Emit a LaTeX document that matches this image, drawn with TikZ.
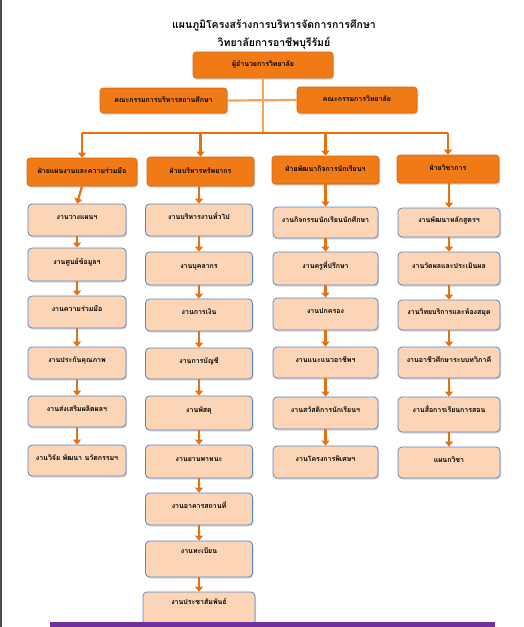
\documentclass[tikz,border=0pt]{standalone}
\usepackage{fontspec}
\newfontfamily\thai[Script=Thai]{Loma}
\usetikzlibrary{arrows.meta,shadows}
\definecolor{orfill}{HTML}{F07B16}
\definecolor{ordraw}{HTML}{D9650C}
\definecolor{peach}{HTML}{FBD5B5}
\definecolor{bluedraw}{HTML}{5B87C5}
\definecolor{arrc}{HTML}{E8700F}
\definecolor{lightarr}{HTML}{F6A35C}
\definecolor{purp}{HTML}{7030A0}
\begin{document}
\begin{tikzpicture}[x=1pt,y=-1pt,
  titletext/.style={font=\thai\bfseries\fontsize{10.5}{12}\selectfont, inner sep=0pt},
  headbox/.style={draw=ordraw, line width=0.6pt, fill=orfill, rounded corners=3pt,
    drop shadow={shadow xshift=1pt,shadow yshift=-1.5pt,opacity=0.35},
    font=\thai\bfseries\fontsize{7}{8}\selectfont, inner sep=0pt, text height=5pt, text depth=1.5pt},
  subbox/.style={draw=bluedraw, line width=0.8pt, fill=peach, rounded corners=4pt,
    drop shadow={shadow xshift=1pt,shadow yshift=-1.5pt,opacity=0.3},
    font=\thai\bfseries\fontsize{7}{8}\selectfont, inner sep=0pt, text height=5pt, text depth=5.5pt},
  arr/.style={draw=arrc, line width=2.2pt, -{Triangle[length=5pt,width=8pt]}},
  busline/.style={draw=arrc, line width=2.2pt},
  lightline/.style={draw=lightarr, line width=2.2pt}
]
\useasboundingbox (0,0) rectangle (523,627);
\fill[white] (0,0) rectangle (523,627);
\fill[black!70] (0,0) rectangle (1.5,627);

\node[titletext] (t1) at (274,25) {แผนภูมิโครงสร้างการบริหารจัดการการศึกษา};
\node[titletext] (t2) at (274,43) {วิทยาลัยการอาชีพบุรีรัมย์};

\coordinate (busc) at (263,133);
\coordinate (busl) at (82,133);
\coordinate (busr) at (448,133);

\node[headbox, minimum width=127, minimum height=25] (cl) at (163.5,100.5) {คณะกรรมการบริหารสถานศึกษา};
\node[headbox, minimum width=120, minimum height=26] (cr) at (357,100) {คณะกรรมการวิทยาลัย};
\draw[lightline] (cl.east) -- (cr.west);
\node[headbox, minimum width=140, minimum height=26] (dir) at (263,65) {ผู้อำนวยการวิทยาลัย};
\draw[lightline] (dir.south) -- (busc);
\draw[busline] (busl) -- (busr);

\node[headbox, minimum width=110, minimum height=28] (h1) at (82,172) {ฝ่ายแผนงานและความร่วมมือ};
\node[headbox, minimum width=107, minimum height=29] (h2) at (200.5,171.5) {ฝ่ายบริหารทรัพยากร};
\node[headbox, minimum width=107, minimum height=28] (h3) at (325.5,170) {ฝ่ายพัฒนากิจการนักเรียนฯ};
\node[headbox, minimum width=102, minimum height=28] (h4) at (448,169) {ฝ่ายวิชาการ};
\foreach \h in {h1,h2,h3,h4} \draw[arr] (\h.north |- busc) -- (\h.north);

% column 1
\begin{scope}[every node/.style={subbox, minimum width=98}]
\node[minimum height=32] (a1) at (77,220) {งานวางแผนฯ};
\node[minimum height=33] (a2) at (77,264.5) {งานศูนย์ข้อมูลฯ};
\node[minimum height=32] (a3) at (77,312) {งานความร่วมมือ};
\node[minimum height=32] (a4) at (77,363) {งานประกันคุณภาพ};
\node[minimum height=31] (a5) at (77,411.5) {งานส่งเสริมผลิตผลฯ};
\node[minimum height=31] (a6) at (77,460.5) {งานวิจัย พัฒนา นวัตกรรมฯ};
\end{scope}
% column 2
\begin{scope}[every node/.style={subbox, minimum width=107}]
\node[minimum height=32] (b1) at (199,220) {งานบริหารงานทั่วไป};
\node[minimum height=33] (b2) at (199,268.5) {งานบุคลากร};
\node[minimum height=32] (b3) at (199,315) {งานการเงิน};
\node[minimum height=31] (b4) at (199,363.5) {งานการบัญชี};
\node[minimum height=34] (b5) at (199,413) {งานพัสดุ};
\node[minimum height=33] (b6) at (199,461.5) {งานยานพาหนะ};
\node[minimum height=32] (b7) at (199,509) {งานอาคารสถานที่};
\node[minimum height=36, text depth=16pt] (b8) at (199,559) {งานทะเบียน};
\node[minimum height=40, minimum width=112, text depth=20pt] (b9) at (199,612) {งานประชาสัมพันธ์};
\end{scope}
% column 3
\begin{scope}[every node/.style={subbox, minimum width=105}]
\node[minimum height=31] (c1) at (325.5,222.5) {งานกิจกรรมนักเรียนนักศึกษา};
\node[minimum height=33] (c2) at (325.5,268.5) {งานครูที่ปรึกษา};
\node[minimum height=32] (c3) at (325.5,314) {งานปกครอง};
\node[minimum height=31] (c4) at (325.5,362.5) {งานแนะแนวอาชีพฯ};
\node[minimum height=32] (c5) at (325.5,413) {งานสวัสดิการนักเรียนฯ};
\node[minimum height=32] (c6) at (325.5,462) {งานโครงการพิเศษฯ};
\end{scope}
% column 4
\begin{scope}[every node/.style={subbox, minimum width=102}]
\node[minimum height=29] (d1) at (449,222.5) {งานพัฒนาหลักสูตรฯ};
\node[minimum height=33] (d2) at (449,268.5) {งานวัดผลและประเมินผล};
\node[minimum height=30] (d3) at (449,315) {งานวิทยบริการและห้องสมุด};
\node[minimum height=31] (d4) at (449,362.5) {งานอาชีวศึกษาระบบทวิภาคี};
\node[minimum height=35, text depth=9pt] (d5) at (449,414.5) {งานสื่อการเรียนการสอน};
\node[minimum height=31] (d6) at (449,462.5) {แผนกวิชา};
\end{scope}

\draw[arr] (h1.south) -- (a1.north);
\draw[arr] (h2.south -| b1.north) -- (b1.north);
\draw[arr] (h3.south) -- (c1.north);
\draw[arr] (h4.south -| d1.north) -- (d1.north);
\foreach \p/\q in {a1/a2,a2/a3,a3/a4,a4/a5,a5/a6,
                   b1/b2,b2/b3,b3/b4,b4/b5,b5/b6,b6/b7,b7/b8,b8/b9,
                   c1/c2,c2/c3,c3/c4,c4/c5,c5/c6,
                   d1/d2,d2/d3,d3/d4,d4/d5,d5/d6}
  \draw[arr] (\p.south) -- (\q.north);

\fill[purp] (50,622) rectangle (495,627);
\end{tikzpicture}
\end{document}
